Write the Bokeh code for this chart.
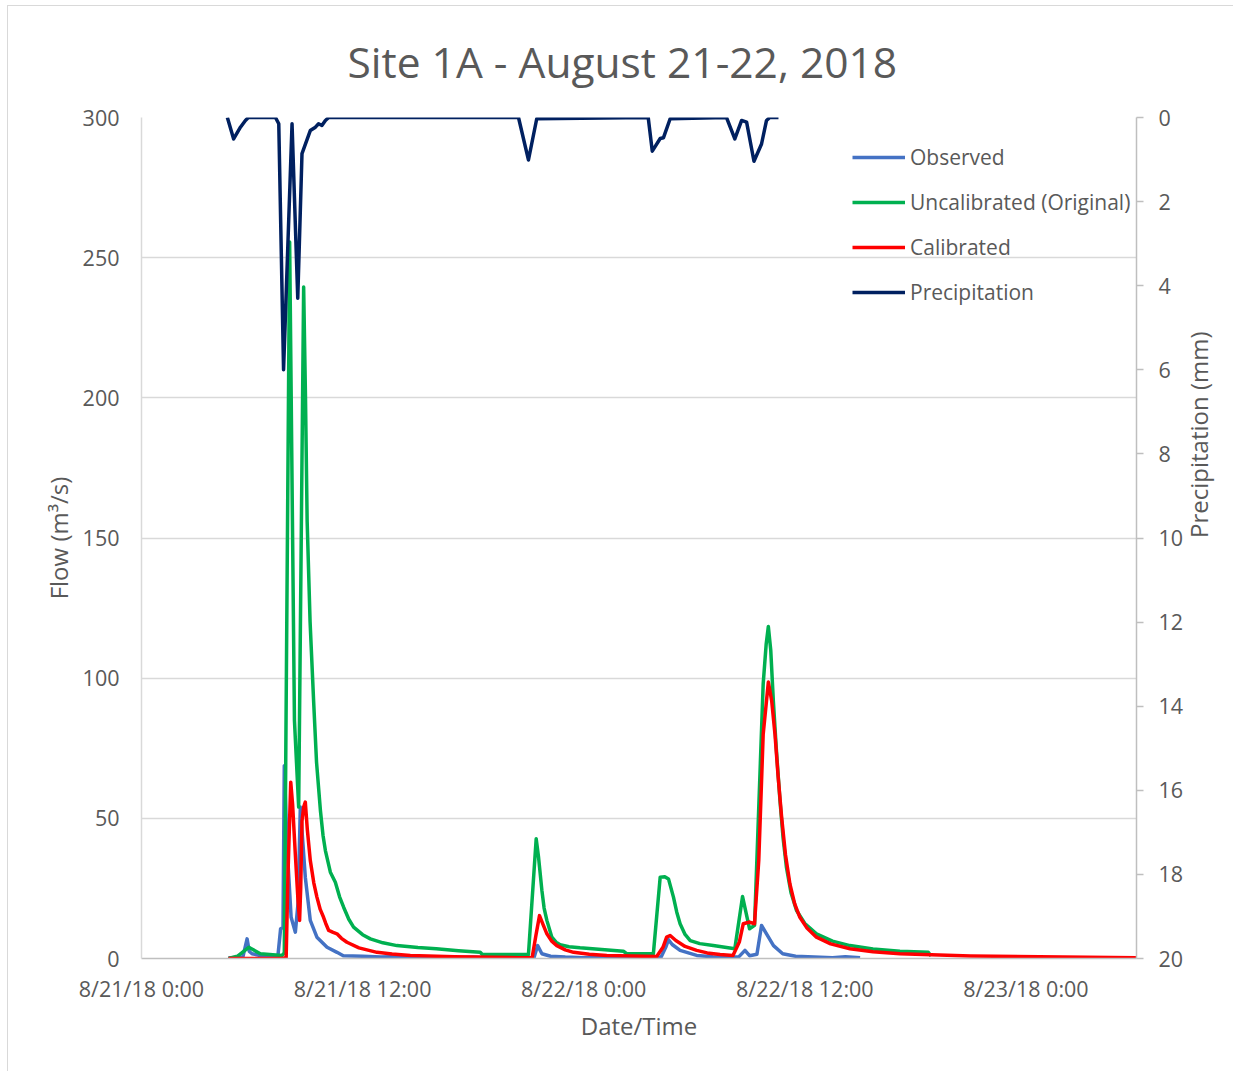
import math
from bokeh.plotting import figure
from bokeh.models import Range1d, LinearAxis, FixedTicker, Legend, LegendItem
from bokeh.embed import file_html
from bokeh.resources import INLINE

# ---- data (hours since 8/21/18 0:00) ----
title_text = "Site 1A - August 21-22, 2018"
x_ticks = [0, 12, 24, 36, 48]
x_tick_labels = ["8/21/18 0:00", "8/21/18 12:00", "8/22/18 0:00", "8/22/18 12:00", "8/23/18 0:00"]
flow_ticks = [0, 50, 100, 150, 200, 250, 300]
precip_ticks = [0, 2, 4, 6, 8, 10, 12, 14, 16, 18, 20]

obs_t = [4.72, 5.5, 5.73, 5.85, 6.0, 6.5, 7.4, 7.55, 7.68, 7.75, 7.9, 8.12, 8.35, 8.5, 8.62, 8.75,
         8.89, 9.16, 9.52, 10.07, 10.61, 10.95, 12.0, 13.0, 14.0, 15.0, 16.0, 17.0, 18.0, 19.0,
         20.0, 21.3, 21.5, 21.73, 22.2, 23.0, 24.0, 25.0, 26.0, 27.0, 28.2, 28.45, 28.6, 28.8,
         29.23, 30.13, 31.0, 32.4, 32.75, 33.0, 33.4, 33.65, 33.92, 34.3, 34.8, 35.5, 36.5,
         37.5, 38.2, 39.0]
obs_q = [0.2, 0.5, 7.0, 2.5, 1.7, 1.0, 0.7, 10.6, 11.0, 68.8, 40.0, 14.7, 9.4, 20.0, 54.0, 42.0,
         29.0, 13.6, 7.6, 4.0, 2.2, 1.0, 0.8, 0.5, 0.7, 0.3, 0.5, 0.3, 0.5, 0.3,
         0.4, 0.3, 4.6, 1.7, 0.8, 0.5, 0.3, 0.5, 0.3, 0.4, 0.5, 4.0, 6.7, 5.0,
         2.9, 1.1, 0.6, 0.5, 2.9, 1.0, 1.5, 11.8, 8.8, 4.6, 1.7, 0.8, 0.5,
         0.3, 0.6, 0.3]

unc_t = [4.72, 5.2, 5.82, 6.45, 7.63, 7.75, 8.04, 8.3, 8.53, 8.8, 8.9, 8.99, 9.15, 9.34, 9.5,
         9.71, 9.85, 9.98, 10.25, 10.52, 10.75, 10.97, 11.25, 11.51, 12.0, 12.42, 13.1, 13.86,
         15.0, 16.0, 17.2, 18.38, 18.5, 21.0, 21.42, 21.55, 21.73, 21.85, 22.0, 22.27, 22.5,
         22.72, 23.2, 23.8, 26.15, 26.33, 27.78, 28.15, 28.4, 28.6, 28.87, 29.05, 29.23, 29.5,
         29.78, 30.3, 31.03, 32.2, 32.62, 33.0, 33.27, 33.74, 33.9, 34.02, 34.15, 34.29, 34.45,
         34.65, 34.82, 35.0, 35.25, 35.55, 36.0, 36.63, 37.5, 38.45, 39.7, 41.16, 42.7, 42.85]
unc_q = [0.0, 0.8, 4.0, 1.7, 1.1, 2.0, 255.6, 85.0, 54.0, 239.5, 200.0, 156.0, 120.0, 92.0, 70.0,
         52.8, 44.0, 38.5, 30.8, 27.2, 22.0, 18.3, 14.0, 11.2, 8.5, 7.0, 5.6, 4.6,
         3.9, 3.5, 2.8, 2.2, 1.4, 1.4, 42.7, 36.0, 24.3, 18.0, 13.6, 7.6, 5.8,
         4.9, 4.2, 3.8, 2.6, 1.7, 1.7, 29.0, 29.2, 28.4, 21.9, 16.5, 12.4, 8.6,
         6.4, 5.3, 4.6, 3.5, 22.1, 10.6, 11.8, 98.0, 112.0, 118.4, 110.0, 92.0, 75.0,
         56.4, 43.0, 32.6, 23.5, 17.1, 12.5, 8.8, 6.2, 4.6, 3.4, 2.6, 2.2, 0.9]

cal_t = [4.72, 7.6, 7.85, 7.95, 8.1, 8.2, 8.35, 8.5, 8.58, 8.64, 8.71, 8.8, 8.89, 9.0, 9.16, 9.35,
         9.52, 9.7, 9.88, 10.0, 10.16, 10.4, 10.61, 10.85, 11.15, 11.8, 12.78, 13.6, 14.59, 17.0,
         20.5, 21.2, 21.4, 21.6, 21.8, 22.0, 22.25, 22.54, 23.0, 23.45, 24.3, 25.25, 27.96,
         28.3, 28.5, 28.69, 29.0, 29.5, 30.13, 30.7, 31.4, 32.1, 32.45, 32.66, 33.0, 33.27,
         33.5, 33.74, 34.02, 34.2, 34.38, 34.55, 34.74, 34.95, 35.19, 35.45, 35.73, 36.1,
         36.63, 37.4, 38.45, 39.7, 41.16, 45.0, 50.0, 54.0]
cal_q = [0.0, 0.0, 0.3, 30.0, 62.9, 55.0, 37.0, 20.0, 13.6, 25.0, 49.0, 54.0, 55.8, 46.0, 35.0, 27.0,
         21.9, 17.5, 14.7, 12.5, 10.0, 9.3, 8.8, 7.2, 5.8, 3.8, 2.2, 1.6, 1.1, 0.6,
         0.3, 0.3, 8.0, 15.3, 12.0, 8.8, 6.3, 4.6, 3.1, 2.2, 1.5, 1.1, 0.7,
         4.0, 7.6, 8.2, 6.4, 4.3, 2.9, 2.0, 1.4, 1.1, 6.0, 12.4, 13.0, 12.4,
         35.0, 80.0, 98.6, 92.0, 80.0, 65.0, 50.4, 37.0, 26.6, 19.5, 14.7, 11.0,
         7.6, 5.2, 3.5, 2.4, 1.7, 0.9, 0.5, 0.3]

pr_t = [4.66, 5.0, 5.37, 5.64, 5.8, 7.27, 7.45, 7.71, 8.17, 8.48, 8.71, 9.16, 9.44, 9.61, 9.79,
        9.98, 10.16, 20.46, 21.0, 21.45, 27.5, 27.72, 28.15, 28.33, 28.69, 31.75, 32.2, 32.57,
        32.84, 33.24, 33.65, 33.92, 34.1, 34.57]
pr_mm = [0.0, 0.51, 0.23, 0.07, 0.0, 0.0, 0.15, 6.0, 0.15, 4.3, 0.86, 0.31, 0.23, 0.15, 0.19,
         0.07, 0.0, 0.0, 1.01, 0.03, 0.0, 0.8, 0.5, 0.48, 0.03, 0.0, 0.51, 0.07,
         0.11, 1.04, 0.63, 0.07, 0.0, 0.0]

FONT = "Open Sans"
TXT = "#595959"

p = figure(width=1226, height=1066, output_backend="svg", toolbar_location=None,
           x_range=Range1d(0, 54), y_range=Range1d(0, 300),
           min_border_left=133, min_border_right=97, min_border_top=111, min_border_bottom=114)
p.styles = {"margin-left": "7px", "margin-top": "5px",
            "border-left": "1px solid #D9D9D9", "border-top": "1px solid #D9D9D9"}
p.outline_line_color = None
p.extra_y_ranges = {"precip": Range1d(20, 0)}

p.title.text = title_text
p.title.align = "left"
p.title.offset = 206
p.title.vertical_align = "top"
p.title.standoff = 52
p.title.text_font = FONT
p.title.text_font_size = "42.5px"
p.title.text_font_style = "normal"
p.title.text_color = TXT

# grid
p.xgrid.grid_line_color = None
p.ygrid.grid_line_color = "#D9D9D9"
p.ygrid.grid_line_width = 1.5
p.ygrid.ticker = FixedTicker(ticks=flow_ticks)

# x axis
xa = p.xaxis[0]
xa.ticker = FixedTicker(ticks=x_ticks)
xa.major_label_overrides = {t: l for t, l in zip(x_ticks, x_tick_labels)}
xa.axis_label = "Date/Time"
xa.axis_line_color = "#BFBFBF"
xa.axis_line_width = 1.5
xa.major_tick_line_color = None
xa.minor_tick_line_color = None
xa.major_tick_out = 0
xa.major_label_standoff = 15
xa.axis_label_standoff = 3

# left axis
ya = p.yaxis[0]
ya.ticker = FixedTicker(ticks=flow_ticks)
ya.axis_label = "Flow (m³/s)"
ya.axis_line_color = "#D9D9D9"
ya.axis_line_width = 1.5
ya.major_tick_line_color = None
ya.minor_tick_line_color = None
ya.major_tick_out = 0
ya.major_label_standoff = 22
ya.axis_label_standoff = 5

# right axis
ra = LinearAxis(y_range_name="precip", axis_label="Precipitation (mm)")
ra.ticker = FixedTicker(ticks=precip_ticks)
ra.axis_line_color = "#BFBFBF"
ra.axis_line_width = 1.5
ra.major_tick_line_color = "#BFBFBF"
ra.major_tick_line_width = 1.5
ra.major_tick_in = 0
ra.major_tick_out = 7
ra.minor_tick_line_color = None
ra.major_label_standoff = 15
ra.axis_label_standoff = 12
ra.axis_label_orientation = math.pi / 2
p.add_layout(ra, "right")

for ax in [xa, ya, ra]:
    ax.major_label_text_font = FONT
    ax.major_label_text_font_size = "21.5px"
    ax.major_label_text_color = TXT
    ax.axis_label_text_font = FONT
    ax.axis_label_text_font_size = "24px"
    ax.axis_label_text_font_style = "normal"
    ax.axis_label_text_color = TXT

LW = 3.5
r_obs = p.line(obs_t, obs_q, line_color="#4472C4", line_width=LW, line_join="round")
r_unc = p.line(unc_t, unc_q, line_color="#00B050", line_width=LW, line_join="round")
r_cal = p.line(cal_t, cal_q, line_color="#FF0000", line_width=LW, line_join="round")
r_pr = p.line(pr_t, pr_mm, line_color="#002060", line_width=LW, line_join="round",
              y_range_name="precip")

legend = Legend(items=[
    LegendItem(label="Observed", renderers=[r_obs]),
    LegendItem(label="Uncalibrated (Original)", renderers=[r_unc]),
    LegendItem(label="Calibrated", renderers=[r_cal]),
    LegendItem(label="Precipitation", renderers=[r_pr]),
], location=(711, 652))
legend.label_text_font = FONT
legend.label_text_font_size = "21px"
legend.label_text_color = TXT
legend.glyph_width = 53
legend.glyph_height = 20
legend.label_height = 20
legend.spacing = 17
legend.padding = 0
legend.margin = 0
legend.label_standoff = 5
legend.border_line_color = None
legend.background_fill_alpha = 0
p.add_layout(legend)

open("out.html", "w").write(file_html(p, INLINE))
